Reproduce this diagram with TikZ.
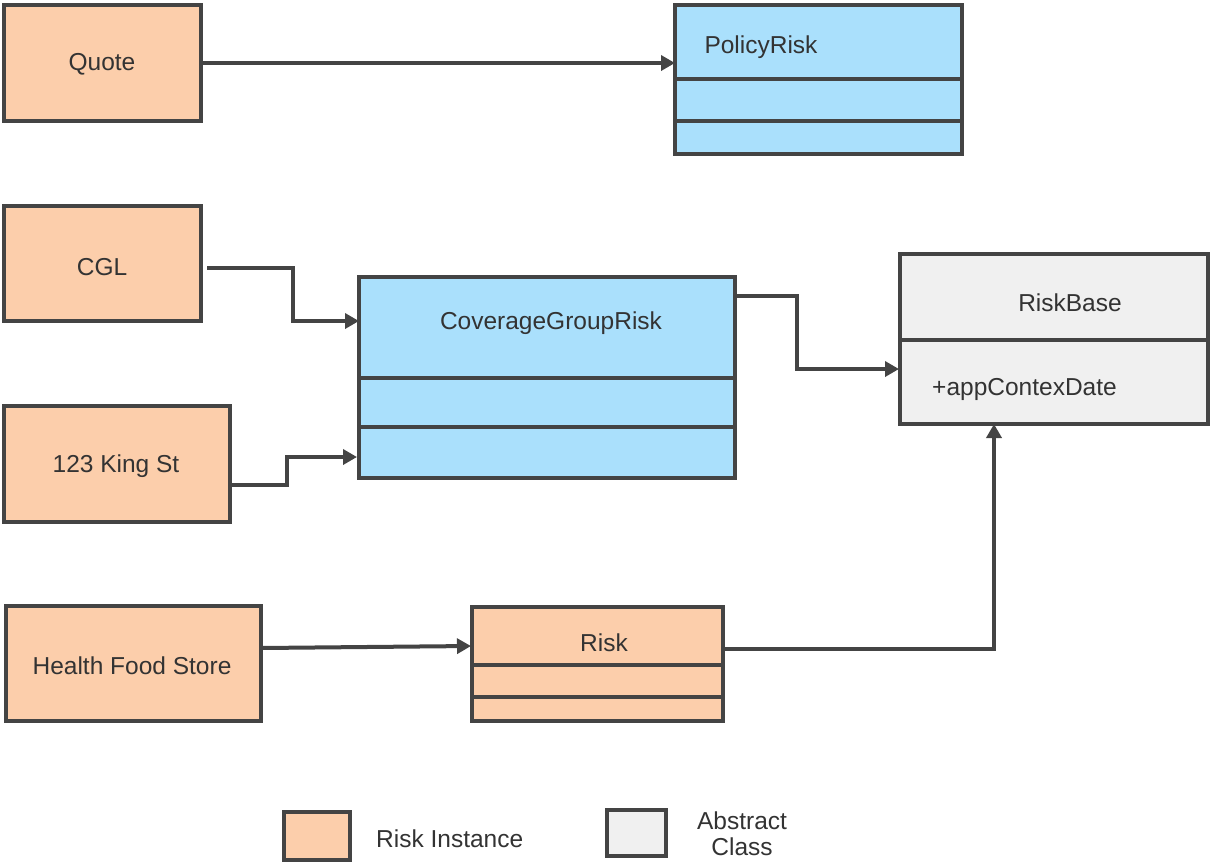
\documentclass[tikz,border=0pt]{standalone}
\usepackage{fontspec}
\setmainfont{Liberation Sans}
\usetikzlibrary{arrows.meta}
\definecolor{edge}{HTML}{444444}
\definecolor{inst}{HTML}{FCCEAB}
\definecolor{cls}{HTML}{AAE0FC}
\definecolor{abs}{HTML}{F0F0F0}
\definecolor{ink}{HTML}{333333}
\begin{document}
\begin{tikzpicture}[x=1pt,y=-1pt,
  box/.style={draw=edge,line width=4pt},
  lbl/.style={text=ink,font=\fontsize{24.5}{28}\selectfont,inner sep=0pt,yshift=-2pt},
  link/.style={draw=edge,line width=4pt,-{Triangle[length=14pt,width=15pt]}}]
\useasboundingbox (0,0) rectangle (1210,863);

% risk instances
\filldraw[box,fill=inst] (4,5) rectangle (201,121);
\node[lbl] (quote) at (102,62) {Quote};
\coordinate (quoteE) at (201,63);

\filldraw[box,fill=inst] (4,206) rectangle (201,321);
\node[lbl] (cgl) at (102,265) {CGL};
\coordinate (cglE) at (207,268);

\filldraw[box,fill=inst] (4,406) rectangle (230,522);
\node[lbl] (king) at (116,464) {123 King St};
\coordinate (kingE) at (230,485);

\filldraw[box,fill=inst] (6,606) rectangle (261,721);
\node[lbl] (hfs) at (132,664) {Health Food Store};
\coordinate (hfsE) at (261,648);

% PolicyRisk class
\filldraw[box,fill=cls] (675,5) rectangle (962,154);
\draw[box] (675,79) -- (962,79);
\draw[box] (675,121) -- (962,121);
\node[lbl] (policy) at (761,45) {PolicyRisk};
\coordinate (policyW) at (675,63);

% CoverageGroupRisk class
\filldraw[box,fill=cls] (359,277) rectangle (735,478);
\draw[box] (359,378) -- (735,378);
\draw[box] (359,427) -- (735,427);
\node[lbl] (cgr) at (551,321) {CoverageGroupRisk};
\coordinate (cgrA) at (359,321);
\coordinate (cgrB) at (357,457);
\coordinate (cgrE) at (735,296);

% RiskBase abstract class
\filldraw[box,fill=abs] (900,254) rectangle (1208,424);
\draw[box] (900,340) -- (1208,340);
\node[lbl] (riskbase) at (1070,301) {RiskBase};
\node[lbl,anchor=west] (ctx) at (932,387) {+appContexDate};
\coordinate (rbW) at (899,369);
\coordinate (rbS) at (994,424);

% Risk class
\filldraw[box,fill=inst] (472,607) rectangle (723,721);
\draw[box] (472,665) -- (723,665);
\draw[box] (472,697) -- (723,697);
\node[lbl] (risk) at (604,641) {Risk};
\coordinate (riskW) at (471,646);
\coordinate (riskE) at (723,649);

% connectors
\draw[link] (quoteE) -- (policyW);
\draw[link] (cglE) -| (293,321) -- (cgrA);
\draw[link] (kingE) -| (287,457) -- (cgrB);
\draw[link] (cgrE) -| (797,369) -- (rbW);
\draw[link] (hfsE) -- (riskW);
\draw[link] (riskE) -| (rbS);

% legend
\filldraw[box,fill=inst] (284,812) rectangle (350,860);
\node[lbl,anchor=west] (legI) at (376,837) {Risk Instance};
\filldraw[box,fill=abs] (607,810) rectangle (666,856);
\node[lbl,align=center,yshift=2pt,font=\fontsize{24.5}{26}\selectfont] (legA) at (742,834) {Abstract\\Class};
\end{tikzpicture}
\end{document}
